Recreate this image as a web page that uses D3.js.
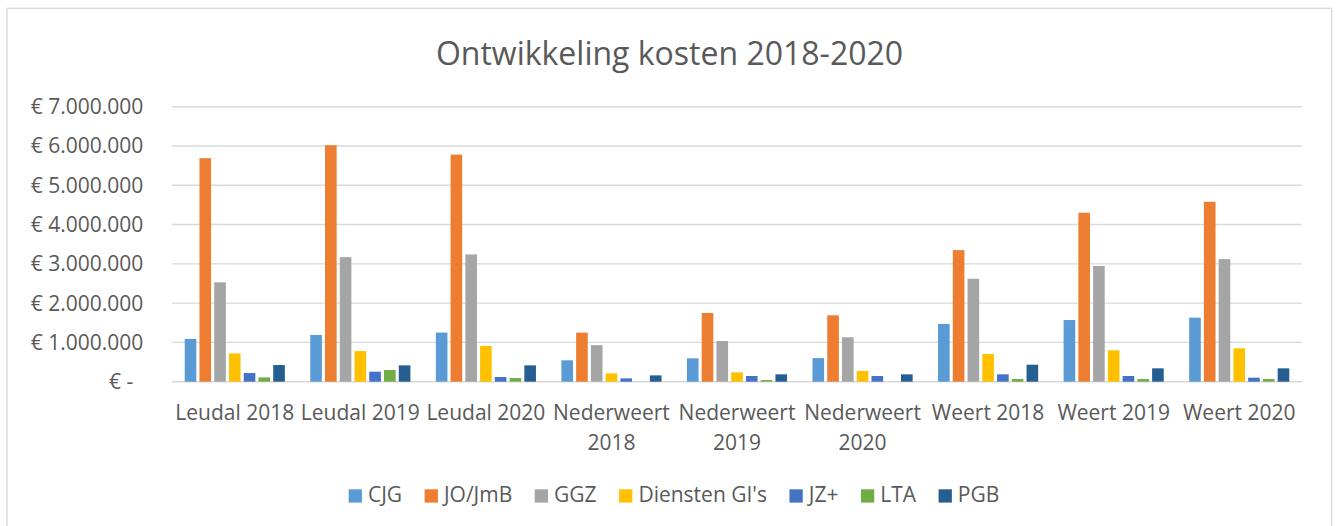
<!DOCTYPE html>
<html>
<head>
<meta charset="utf-8">
<script src="https://cdn.jsdelivr.net/npm/d3@7"></script>
<style>
  body { margin: 0; background: #fff; }
  text { font-family: "Open Sans", "Noto Sans", sans-serif; fill: #595959; }
</style>
</head>
<body>
<div id="chart"></div>
<script>
// data (euro)
var categories = ["Leudal 2018", "Leudal 2019", "Leudal 2020",
    "Nederweert 2018", "Nederweert 2019", "Nederweert 2020",
    "Weert 2018", "Weert 2019", "Weert 2020"]
var seriesNames = ["CJG", "JO/JmB", "GGZ", "Diensten GI's", "JZ+", "LTA", "PGB"]
var seriesColors = ["#5B9BD5", "#ED7D31", "#A5A5A5", "#FFC000", "#4472C4", "#70AD47", "#255E91"]

var cjg      = [1090000, 1190000, 1250000, 545000, 595000, 600000, 1470000, 1570000, 1630000]
var joJmb    = [5690000, 6020000, 5780000, 1250000, 1750000, 1690000, 3350000, 4300000, 4580000]
var ggz      = [2530000, 3170000, 3240000, 930000, 1035000, 1130000, 2620000, 2945000, 3120000]
var diensten = [720000, 780000, 910000, 212000, 238000, 272000, 705000, 800000, 850000]
var jz       = [220000, 255000, 120000, 85000, 145000, 145000, 187000, 145000, 102000]
var lta      = [110000, 297000, 93000, 0, 42000, 0, 68000, 68000, 68000]
var pgb      = [424000, 416000, 416000, 161000, 187000, 187000, 433000, 340000, 340000]
var seriesValues = [cjg, joJmb, ggz, diensten, jz, lta, pgb]

var yTicks = [0, 1000000, 2000000, 3000000, 4000000, 5000000, 6000000, 7000000]

// layout
var total_width = 1338,
    total_height = 526,
    plot = {left: 172, right: 1302, top: 106.7, bottom: 381.7}

var nl = d3.formatLocale({decimal: ",", thousands: ".", grouping: [3], currency: ["€ ", ""]})
var fmt = nl.format("$,.0f")

var svg = d3.select("#chart").append("svg")
    .attr("width", total_width)
    .attr("height", total_height)

svg.append("rect")
    .attr("width", total_width).attr("height", total_height)
    .attr("fill", "#fff")

// chart border
svg.append("rect")
    .attr("x", 7).attr("y", 8.3)
    .attr("width", 1324.7).attr("height", 540)
    .attr("fill", "none")
    .attr("stroke", "#D9D9D9")
    .attr("stroke-width", 1.3)

svg.append("text")
    .attr("x", 669.5).attr("y", 65)
    .attr("text-anchor", "middle")
    .style("font-size", "32px")
    .text("Ontwikkeling kosten 2018-2020")

var x0 = d3.scaleBand().domain(categories).range([plot.left, plot.right])
var x1 = d3.scaleBand().domain(seriesNames).range([0, x0.bandwidth()])
    .paddingInner(0.2126).paddingOuter(0.862)
var y = d3.scaleLinear().domain([0, 7000000]).range([plot.bottom, plot.top])

// gridlines
svg.append("g").selectAll("line")
    .data(yTicks)
    .enter().append("line")
    .attr("x1", plot.left).attr("x2", plot.right)
    .attr("y1", d => y(d)).attr("y2", d => y(d))
    .attr("stroke", "#D9D9D9")
    .attr("stroke-width", 1.4)

// y labels
svg.append("g").selectAll("text")
    .data(yTicks)
    .enter().append("text")
    .attr("x", d => d == 0 ? 133.3 : 143.3)
    .attr("y", d => y(d) + 7.5)
    .attr("text-anchor", "end")
    .style("font-size", "21px")
    .text(d => d == 0 ? "€ -" : fmt(d))

// bars
var groups = svg.append("g").selectAll("g")
    .data(categories)
    .enter().append("g")
    .attr("transform", d => "translate(" + x0(d) + ",0)")

groups.selectAll("rect")
    .data((c, i) => seriesNames.map((s, k) => ({series: s, k: k, value: seriesValues[k][i]})))
    .enter().append("rect")
    .attr("x", d => x1(d.series))
    .attr("width", x1.bandwidth())
    .attr("y", d => y(d.value))
    .attr("height", d => y(0) - y(d.value))
    .attr("fill", d => seriesColors[d.k])

// x labels, wrapped like excel when wider than the band
var xl = svg.append("g").selectAll("text")
    .data(categories)
    .enter().append("text")
    .attr("x", d => x0(d) + x0.bandwidth() / 2)
    .attr("y", 420)
    .attr("text-anchor", "middle")
    .style("font-size", "21px")
    .text(d => d)

xl.each(function(d){
    var t = d3.select(this)
    if (this.getComputedTextLength() > x0.bandwidth()) {
        var words = d.split(" ")
        var last = words.pop()
        t.text(null)
        t.append("tspan").attr("x", x0(d) + x0.bandwidth() / 2).text(words.join(" "))
        t.append("tspan").attr("x", x0(d) + x0.bandwidth() / 2).attr("dy", 30).text(last)
    }
})

// legend
var legend = svg.append("g")
var items = legend.selectAll("g")
    .data(seriesNames)
    .enter().append("g")
items.append("rect")
    .attr("width", 13.3).attr("height", 13.3)
    .attr("y", 489.3)
    .attr("fill", (d, i) => seriesColors[i])
items.append("text")
    .attr("x", 19.3)
    .attr("y", 501.7)
    .style("font-size", "21px")
    .text(d => d)

var pos = 0
items.each(function(){
    var w = d3.select(this).select("text").node().getComputedTextLength()
    d3.select(this).attr("data-x", pos)
    pos += 19.3 + w + 22.5
})
pos -= 22.5
var start = 674 - pos / 2
items.attr("transform", function(){ return "translate(" + (start + (+this.getAttribute("data-x"))) + ",0)" })
</script>
</body>
</html>
